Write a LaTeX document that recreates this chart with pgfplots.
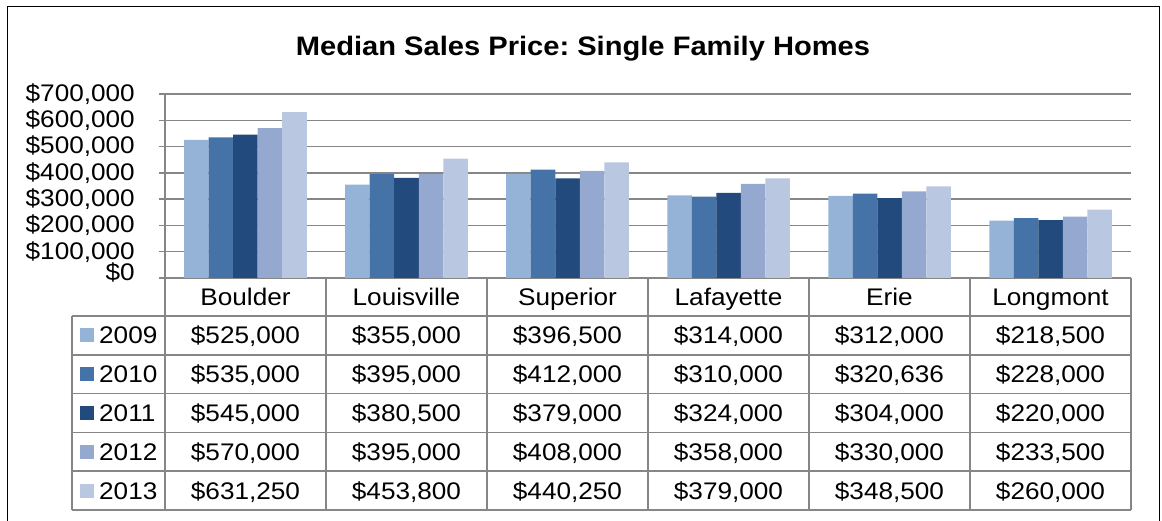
\documentclass[border=0pt]{standalone}
\usepackage{fontspec}
\setmainfont[FakeStretch=1.09]{Liberation Sans}
\usepackage{pgfplots}
\pgfplotsset{compat=1.18}
\definecolor{cA}{RGB}{149,179,215}
\definecolor{cB}{RGB}{70,115,167}
\definecolor{cC}{RGB}{35,74,124}
\definecolor{cD}{RGB}{149,169,208}
\definecolor{cE}{RGB}{185,199,225}
\definecolor{gline}{RGB}{134,134,134}
\newcommand\tf{\fontsize{24}{26}\selectfont}
\frenchspacing
\begin{document}
\begin{tikzpicture}[x=1pt,y=1pt]
\path[use as bounding box] (0,0) rectangle (1162,521);
\draw[black,line width=1pt] (7,0) -- (7,514) -- (1159,514) -- (1159,0);
\node[anchor=base,font=\fontsize{26.7}{28}\selectfont\bfseries] at (583,465) {Median Sales Price: Single Family Homes};
\begin{axis}[
  at={(165pt,243pt)}, anchor=south west,
  scale only axis, width=966pt, height=184pt,
  xmin=-0.5, xmax=5.5, ymin=0, ymax=700000,
  axis x line=bottom, axis y line=left,
  axis line style={-, gline, line width=1.5pt},
  xtick=\empty,
  scaled y ticks=false,
  ytick={100000,200000,300000,400000,500000,600000,700000},
  yticklabels={{\$100,000},{\$200,000},{\$300,000},{\$400,000},{\$500,000},{\$600,000},{\$700,000}},
  extra y ticks={0}, extra y tick labels={{\$0}},
  extra y tick style={yticklabel style={yshift=6pt}},
  tick align=outside, major tick length=6pt,
  tick style={gline, line width=1.5pt},
  yticklabel style={font=\tf, anchor=east, inner sep=0pt, xshift=-24pt},
  ymajorgrids, grid style={gline, line width=1.5pt},
  ybar=0pt, bar width=24.5pt,
  clip=false,
]
\addplot[fill=cA, draw=none] coordinates {(0,525000) (1,355000) (2,396500) (3,314000) (4,312000) (5,218500)};
\addplot[fill=cB, draw=none] coordinates {(0,535000) (1,395000) (2,412000) (3,310000) (4,320636) (5,228000)};
\addplot[fill=cC, draw=none] coordinates {(0,545000) (1,380500) (2,379000) (3,324000) (4,304000) (5,220000)};
\addplot[fill=cD, draw=none] coordinates {(0,570000) (1,395000) (2,408000) (3,358000) (4,330000) (5,233500)};
\addplot[fill=cE, draw=none] coordinates {(0,631250) (1,453800) (2,440250) (3,379000) (4,348500) (5,260000)};
\end{axis}
% data table grid
\begin{scope}[gline, line width=1.5pt]
\foreach \k in {0,...,6} { \draw (165+161*\k,243) -- (165+161*\k,11); }
\draw (72,205) -- (72,11);
\foreach \yy in {205,166.2,127.4,88.6,49.8,11} { \draw (72,\yy) -- (1131,\yy); }
\end{scope}
% header
\foreach \n [count=\i from 0] in {Boulder,Louisville,Superior,Lafayette,Erie,Longmont}
  { \node[anchor=base,font=\tf,inner sep=0pt] at (245.5+161*\i,215) {\n}; }
% rows
\newcommand\row[4]{%
  \fill[#2] (80,#1-26.5) rectangle (94,#1-12.5);
  \node[anchor=base west,font=\tf,inner sep=0pt] at (99,#1-28) {#3};
  \foreach \v [count=\i from 0] in {#4}
    { \node[anchor=base,font=\tf,inner sep=0pt] at (245.5+161*\i,#1-28) {\v}; }
}
\row{205}{cA}{2009}{{\$525,000},{\$355,000},{\$396,500},{\$314,000},{\$312,000},{\$218,500}}
\row{166.2}{cB}{2010}{{\$535,000},{\$395,000},{\$412,000},{\$310,000},{\$320,636},{\$228,000}}
\row{127.4}{cC}{2011}{{\$545,000},{\$380,500},{\$379,000},{\$324,000},{\$304,000},{\$220,000}}
\row{88.6}{cD}{2012}{{\$570,000},{\$395,000},{\$408,000},{\$358,000},{\$330,000},{\$233,500}}
\row{49.8}{cE}{2013}{{\$631,250},{\$453,800},{\$440,250},{\$379,000},{\$348,500},{\$260,000}}
\end{tikzpicture}
\end{document}
